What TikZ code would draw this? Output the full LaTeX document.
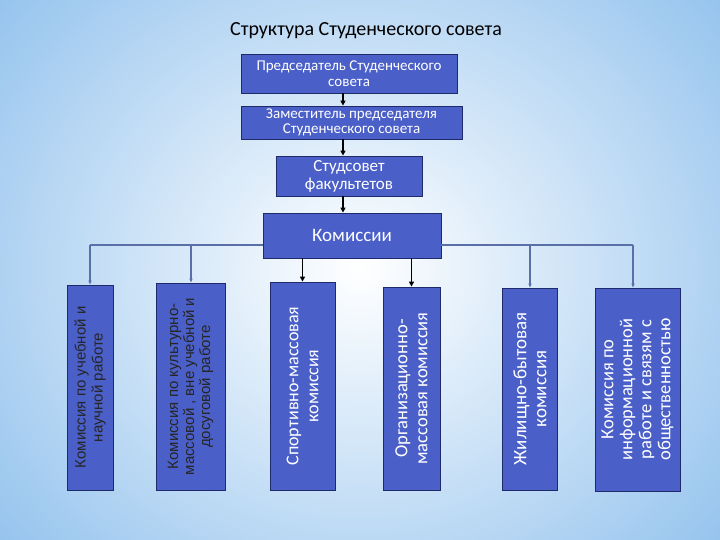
\documentclass[tikz,border=0pt]{standalone}
\usepackage{fontspec}
\setmainfont{Carlito}
\newfontfamily\arialf{Liberation Sans}
\usetikzlibrary{arrows.meta}
\definecolor{boxblue}{HTML}{4A5FC8}
\definecolor{edge}{HTML}{1F2A6A}
\definecolor{linkc}{HTML}{5A6FA8}
\begin{document}
\begin{tikzpicture}[x=1pt,y=-1pt,
  bx/.style={fill=boxblue,draw=edge,line width=0.8pt,text=white,align=center,inner sep=0pt},
  vt/.style={rotate=90,align=center,inner sep=0pt},
  blk/.style={-{Triangle[length=5pt,width=5pt]},line width=1.3pt,black},
  thn/.style={-{Triangle[length=4pt,width=3pt]},line width=1.2pt,linkc}]
\useasboundingbox (0,0) rectangle (720,540);
\begin{scope}
\clip (0,0) rectangle (720,540);
\shade[inner color=white,outer color={rgb,255:red,150;green,196;blue,238}] (360,270) ellipse (470 and 420);
\end{scope}
\node[font=\fontsize{20}{22}\selectfont] (title) at (366,31) {Структура Студенческого совета};
\node[bx,minimum width=216,minimum height=39,font=\fontsize{15}{16}\selectfont] (p) at (349,73.5) {Председатель Студенческого\\совета};
\node[bx,minimum width=221,minimum height=33,font=\fontsize{15}{15}\selectfont] (z) at (351.5,122.5) {Заместитель председателя\\Студенческого совета};
\node[bx,minimum width=146,minimum height=40,font=\fontsize{17}{18}\selectfont] (s) at (349,176) {Студсовет\\факультетов};
\node[bx,minimum width=178,minimum height=45,font=\fontsize{19}{20}\selectfont] (k) at (352,235.5) {Комиссии};
\draw[blk] (p.south -| 343,0) -- (z.north -| 343,0);
\draw[blk] (z.south -| 343,0) -- (s.north -| 343,0);
\draw[blk] (s.south -| 343,0) -- (k.north -| 343,0);
% bottom boxes
\node[bx,minimum width=46,minimum height=205] (c1) at (90,387.5) {};
\node[vt,text=black!85,font=\arialf\fontsize{15}{17}\selectfont] (t1) at (c1.center) {Комиссия по учебной и\\научной работе};
\node[bx,minimum width=69,minimum height=207] (c2) at (190.5,386.5) {};
\node[vt,text=black!85,font=\arialf\fontsize{15}{16}\selectfont] (t2) at (c2.center) {Комиссия по культурно-\\массовой , вне учебной и\\досуговой работе};
\node[bx,minimum width=65,minimum height=208] (c3) at (302.5,386) {};
\node[vt,text=white,font=\fontsize{18}{20}\selectfont] (t3) at (c3.center) {Спортивно-массовая\\комиссия};
\node[bx,minimum width=57,minimum height=203] (c4) at (411.5,388.5) {};
\node[vt,text=white,font=\fontsize{18.5}{20}\selectfont] (t4) at (c4.center) {Организационно-\\массовая комиссия};
\node[bx,minimum width=55,minimum height=202] (c5) at (530,389) {};
\node[vt,text=white,font=\fontsize{19}{20}\selectfont] (t5) at (c5.center) {Жилищно-бытовая\\комиссия};
\node[bx,minimum width=85,minimum height=203] (c6) at (637.5,389.5) {};
\node[vt,text=white,font=\fontsize{18.5}{19}\selectfont] (t6) at (c6.center) {Комиссия по\\информационной\\работе и связям с\\общественностью};
\draw[blk] (k.south -| c3.center) -- (c3.north);
\draw[blk] (k.south -| c4.center) -- (c4.north);
\coordinate (lA) at (90,245);
\coordinate (lB) at (191,245);
\coordinate (rA) at (530,245);
\coordinate (rB) at (633,245);
\draw[line width=1.4pt,linkc] (k.west |- lA) -- (lA);
\draw[line width=1.4pt,linkc] (k.east |- rB) -- (rB);
\draw[thn] (lA) -- (c1.north);
\draw[thn] (lB) -- (c2.north -| lB);
\draw[thn] (rA) -- (c5.north);
\draw[thn] (rB) -- (c6.north -| rB);
\end{tikzpicture}
\end{document}
